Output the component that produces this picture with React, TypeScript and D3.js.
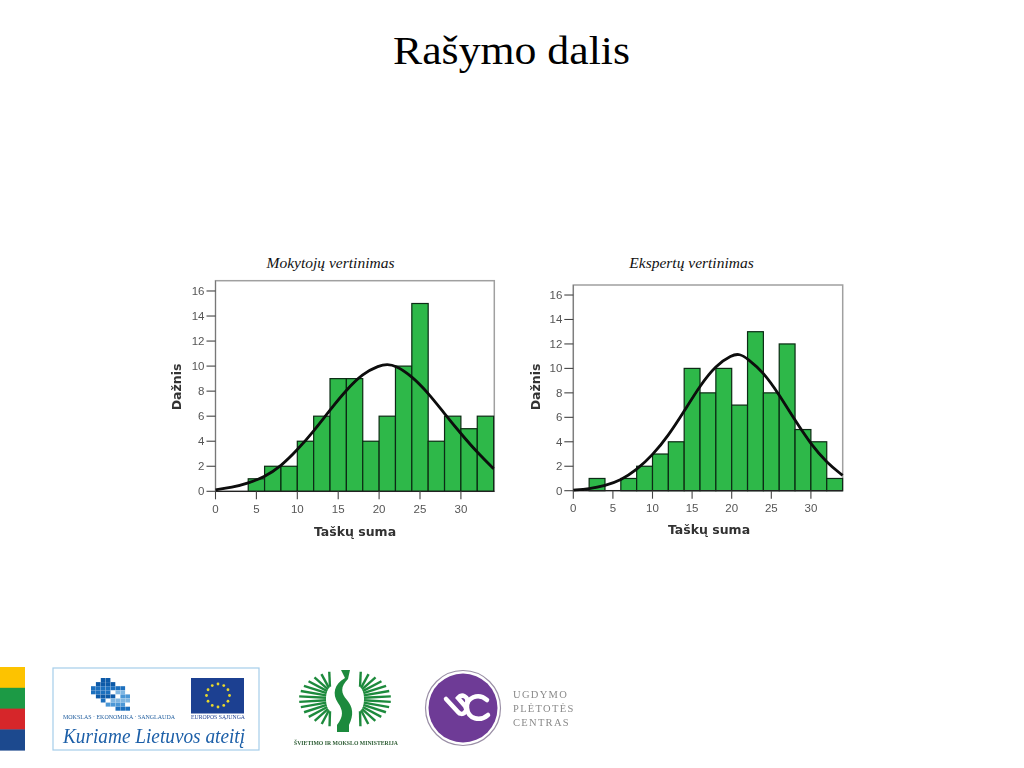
import React from "react";
import * as d3 from "d3";

const title = "Rašymo dalis";
const binEdges = [0, 2, 4, 6, 8, 10, 12, 14, 16, 18, 20, 22, 24, 26, 28, 30, 32, 34];
const teacherCounts = [0, 0, 1, 2, 2, 4, 6, 9, 9, 4, 6, 10, 15, 4, 6, 5, 6];
const expertCounts = [0, 1, 0, 1, 2, 3, 4, 10, 8, 10, 7, 13, 8, 12, 5, 4, 1];
const xTicks = [0, 5, 10, 15, 20, 25, 30];
const yTicks = [0, 2, 4, 6, 8, 10, 12, 14, 16];
const curveX = [0, 2, 4, 6, 8, 10, 12, 14, 16, 18, 20, 21, 22, 24, 26, 28, 30, 32, 34];
const teacherCurve = [0.12, 0.3, 0.65, 1.15, 2, 3.3, 4.8, 6.5, 8.1, 9.4, 10.05, 10.15, 10.05, 9.2, 7.85, 6.2, 4.6, 3.1, 1.8];
const expertCurve = [0.05, 0.15, 0.4, 0.85, 1.7, 2.9, 4.5, 6.5, 8.6, 10.25, 11.1, 11.2, 10.8, 9.7, 7.85, 5.75, 3.8, 2.3, 1.25];
const flagColors = ["#fdc300", "#1e9a45", "#d6282b", "#1f4a8e"];
const mosaicCells = [
  [2, 0], [3, 0], [1, 1], [2, 1], [3, 1], [4, 1], [0, 2], [1, 2], [2, 2], [3, 2], [4, 2], [5, 2], [6, 2],
  [0, 3], [1, 3], [2, 3], [3, 3], [5, 3], [6, 3], [1, 4], [2, 4], [3, 4], [4, 4], [6, 4], [7, 4],
  [2, 5], [4, 5], [5, 5], [6, 5], [7, 5], [3, 6], [4, 6], [5, 6], [6, 6], [5, 7], [6, 7], [7, 7],
];
const mosaicShades = ["#1f6fbe", "#4c97d6", "#0f5aa8", "#7fb6e2"];
const rayAngles = d3.range(-70, 71, 10.8);

const serif = "'Liberation Serif', serif";
const sans = "'Liberation Sans', sans-serif";
const bold = "'DejaVu Sans', sans-serif";

function Histogram({ counts, curve, caption, captionX, left, right, top, y0, unitY, unitX, yLabelX, xLabelX, xLabelY, tickY }: any) {
  const x = d3.scaleLinear().domain([0, 34]).range([left, left + 34 * unitX]);
  const y = d3.scaleLinear().domain([0, 16]).range([y0, y0 - 16 * unitY]);
  const line = d3
    .line<number>()
    .x((_, i) => x(curveX[i]))
    .y((d) => y(d))
    .curve(d3.curveBasis);
  return (
    <g>
      <text x={captionX} y={268} textAnchor="middle" fontFamily={serif} fontStyle="italic" fontSize={15.5} fill="#111">
        {caption}
      </text>
      <g filter="url(#soft)">
        <rect x={left} y={top} width={right - left} height={y0 - top} fill="#fff" stroke="#a0a0a0" strokeWidth={1.5} />
        {counts.map((c: number, i: number) =>
          c > 0 ? (
            <rect key={i} x={x(binEdges[i])} y={y(c)} width={x(binEdges[i + 1]) - x(binEdges[i])} height={y0 - y(c)} fill="#2db84a" stroke="#0b2a12" strokeWidth={1.2} />
          ) : null
        )}
        <line x1={left} x2={right} y1={y0} y2={y0} stroke="#222" strokeWidth={1.3} />
        <line x1={left} x2={left} y1={top} y2={y0} stroke="#777" strokeWidth={1} />
        <path d={line(curve) || ""} fill="none" stroke="#0a0a0a" strokeWidth={2.8} />
        {yTicks.map((t) => (
          <g key={t}>
            <line x1={left - 9} x2={left} y1={y(t)} y2={y(t)} stroke="#444" strokeWidth={1.1} />
            <text x={left - 11} y={y(t) + 4} textAnchor="end" fontFamily={sans} fontSize={11.5} fill="#555">
              {t}
            </text>
          </g>
        ))}
        {xTicks.map((t) => (
          <g key={t}>
            <line x1={x(t)} x2={x(t)} y1={y0} y2={y0 + 8} stroke="#444" strokeWidth={1.1} />
            <text x={x(t)} y={tickY} textAnchor="middle" fontFamily={sans} fontSize={11.5} fill="#555">
              {t}
            </text>
          </g>
        ))}
        <text transform={`translate(${yLabelX},${387}) rotate(-90)`} textAnchor="middle" fontFamily={bold} fontWeight="bold" fontSize={12.5} fill="#333">
          Dažnis
        </text>
        <text x={xLabelX} y={xLabelY} textAnchor="middle" fontFamily={bold} fontWeight="bold" fontSize={12.5} fill="#333">
          Taškų suma
        </text>
      </g>
    </g>
  );
}

function Logos() {
  const stars = d3.range(12).map((i) => (i * Math.PI) / 6);
  return (
    <g filter="url(#soft)">
      <g>
        {flagColors.map((c, i) => (
          <rect key={c} x={0} y={667 + i * 20.8} width={25} height={21.2} fill={c} />
        ))}
      </g>
      <rect x={53} y={668} width={206} height={82} fill="#fff" stroke="#a5cdea" strokeWidth={1.2} />
      {mosaicCells.map(([cx, cy], i) => (
        <rect key={i} x={91 + cx * 4.9} y={678 + cy * 4.1} width={4.7} height={4} fill={mosaicShades[(cx * 3 + cy * 5 + i) % 4]} />
      ))}
      <text x={63} y={719} fontFamily={serif} fontSize={7} fill="#1c5a9c" textLength={112} lengthAdjust="spacingAndGlyphs">
        MOKSLAS · EKONOMIKA · SANGLAUDA
      </text>
      <rect x={191} y={678} width={53} height={35.5} fill="#1e3f91" />
      {stars.map((a, i) => (
        <circle key={i} cx={218 + 11.5 * Math.cos(a)} cy={695.5 + 11.5 * Math.sin(a)} r={1.4} fill="#e8d92c" />
      ))}
      <text x={191} y={719} fontFamily={serif} fontSize={5.6} fill="#1e3f91" textLength={54} lengthAdjust="spacingAndGlyphs">
        EUROPOS SĄJUNGA
      </text>
      <text x={63} y={743} fontFamily={serif} fontStyle="italic" fontSize={22} fill="#1c5fa8" textLength={182} lengthAdjust="spacingAndGlyphs">
        Kuriame Lietuvos ateitį
      </text>

      <g stroke="#1f8a3c" strokeWidth={2.4}>
        {rayAngles.flatMap((a) => {
          const r = (a * Math.PI) / 180;
          const c = Math.cos(r);
          const s = Math.sin(r);
          return [1, -1].map((side) => (
            <line key={`${a}${side}`} x1={345 + side * (13 + 6 * c)} y1={699 + 13 * s} x2={345 + side * 46 * c} y2={699 + 29 * s} />
          ));
        })}
      </g>
      <path d="M341 670 L350 670 L348 679 C340 687 341 693 347 700 C353 707 354 715 349 725 L349 732 L337 732 L337 725 C344 716 343 710 338 703 C332 694 334 684 345 678 Z" fill="#1f8a3c" />
      <text x={294} y={745} fontFamily={serif} fontWeight="bold" fontSize={6} fill="#2c5c33" textLength={104} lengthAdjust="spacingAndGlyphs">
        ŠVIETIMO IR MOKSLO MINISTERIJA
      </text>

      <circle cx={463} cy={708} r={37.5} fill="#fff" stroke="#9a8fa6" strokeWidth={1.2} />
      <circle cx={463} cy={708} r={34.5} fill="#6e3a96" />
      <g fill="none" stroke="#fff" strokeWidth={4.5} strokeLinecap="round">
        <path d="M446 699 L458 712 C462 717 469 711 465 706 L458 698 C462 693 469 697 467 703" />
        <path d="M487 700 C478 692 466 698 467 708 C468 719 480 722 488 715" />
      </g>
      <g fontFamily={serif} fontSize={10.5} fill="#8a8a8a" letterSpacing={1.3}>
        <text x={513} y={698}>UGDYMO</text>
        <text x={513} y={712}>PLĖTOTĖS</text>
        <text x={513} y={726}>CENTRAS</text>
      </g>
    </g>
  );
}

export default function App() {
  return (
    <svg width={1024} height={768} viewBox="0 0 1024 768" style={{ position: "absolute", left: 0, top: 0, background: "#fff" }}>
      <defs>
        <filter id="soft" x="-5%" y="-5%" width="110%" height="110%">
          <feGaussianBlur stdDeviation={0.35} />
        </filter>
      </defs>
      <text x={511.5} y={64} textAnchor="middle" fontFamily={serif} fontSize={41} fill="#000" textLength={237} lengthAdjust="spacingAndGlyphs">
        {title}
      </text>
      <Histogram counts={teacherCounts} curve={teacherCurve} caption="Mokytojų vertinimas" captionX={330.5} left={215.5} right={494.3} top={280.7} y0={491.3} unitY={12.52} unitX={8.18} yLabelX={181} xLabelX={355} xLabelY={536} tickY={513} />
      <Histogram counts={expertCounts} curve={expertCurve} caption="Ekspertų vertinimas" captionX={691.5} left={573.3} right={842.7} top={285} y0={490.7} unitY={12.23} unitX={7.92} yLabelX={540} xLabelX={709} xLabelY={534} tickY={512} />
      <Logos />
    </svg>
  );
}
